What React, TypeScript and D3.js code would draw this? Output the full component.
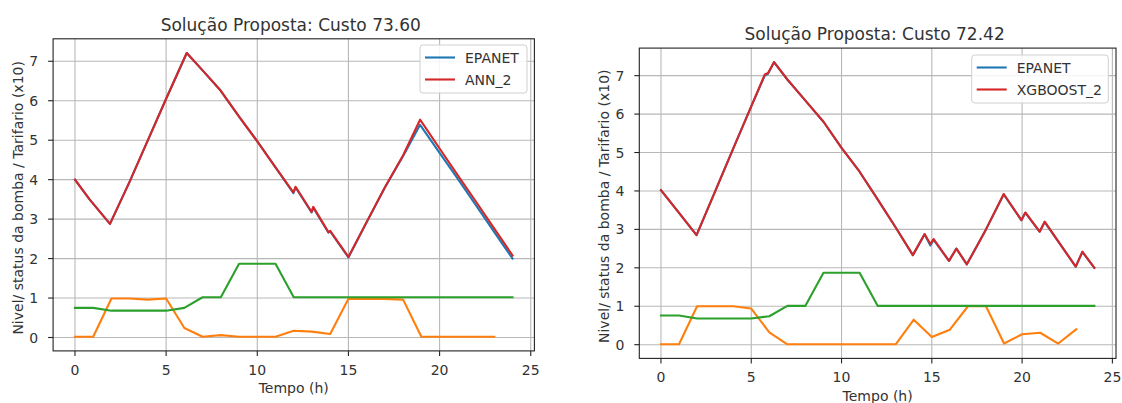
import * as d3 from 'd3'
import React, { useEffect, useRef } from 'react'

// Horas inteiras (tarifa e status da bomba)
const horas = [0, 1, 2, 3, 4, 5, 6, 7, 8, 9, 10, 11, 12, 13, 14, 15, 16, 17, 18, 19, 20, 21, 22, 23, 24]

// Painel esquerdo - ANN_2
const tempoNivelAnn = [0, 0.8, 1.92, 3, 4, 5, 6.13, 7, 7.95, 9, 10, 11, 11.98, 12.1, 12.98, 13.07, 13.9, 14.0, 15, 16, 17, 18, 18.93, 20, 21, 22, 23, 24]
const epanetAnn = [4.0, 3.5, 2.88, 3.95, 5.0, 6.05, 7.21, 6.77, 6.28, 5.6, 4.97, 4.31, 3.66, 3.8, 3.17, 3.29, 2.66, 2.69, 2.03, 2.92, 3.8, 4.6, 5.39, 4.68, 4.02, 3.35, 2.67, 2.0]
const ann2 = [4.0, 3.5, 2.88, 3.95, 5.0, 6.05, 7.21, 6.77, 6.28, 5.6, 4.97, 4.31, 3.68, 3.82, 3.18, 3.31, 2.67, 2.7, 2.04, 2.93, 3.81, 4.62, 5.52, 4.79, 4.11, 3.44, 2.76, 2.08]
const bombaAnn = [0.02, 0.02, 0.99, 0.99, 0.96, 0.99, 0.24, 0.02, 0.06, 0.02, 0.02, 0.02, 0.17, 0.15, 0.09, 0.98, 0.98, 0.98, 0.96, 0.02, 0.02, 0.02, 0.02, 0.02]
const tarifaAnn = [0.75, 0.75, 0.68, 0.68, 0.68, 0.68, 0.75, 1.02, 1.02, 1.87, 1.87, 1.87, 1.02, 1.02, 1.02, 1.02, 1.02, 1.02, 1.02, 1.02, 1.02, 1.02, 1.02, 1.02, 1.02]

// Painel direito - XGBOOST_2
const tempoNivelXgb = [0, 1, 1.97, 3, 4, 5, 5.75, 5.93, 6.26, 7, 8, 9, 10, 11, 12, 13, 13.95, 14.6, 14.92, 15.1, 15.95, 16.36, 16.94, 18, 18.98, 19.96, 20.18, 20.97, 21.25, 22, 22.97, 23.34, 24]
const epanetXgb = [4.02, 3.43, 2.85, 3.99, 5.1, 6.2, 7.0, 7.05, 7.35, 6.9, 6.35, 5.8, 5.12, 4.5, 3.78, 3.05, 2.33, 2.87, 2.58, 2.73, 2.18, 2.5, 2.09, 3.0, 3.91, 3.24, 3.43, 2.94, 3.19, 2.69, 2.03, 2.41, 2.0]
const xgboost2 = [4.02, 3.43, 2.85, 3.99, 5.1, 6.2, 7.03, 7.07, 7.35, 6.9, 6.35, 5.8, 5.12, 4.5, 3.78, 3.05, 2.33, 2.88, 2.62, 2.75, 2.18, 2.5, 2.09, 3.0, 3.92, 3.24, 3.44, 2.94, 3.2, 2.69, 2.03, 2.42, 2.0]
const bombaXgb = [0.01, 0.01, 1.0, 1.0, 1.0, 0.94, 0.32, 0.01, 0.01, 0.01, 0.01, 0.01, 0.01, 0.01, 0.65, 0.2, 0.39, 1.0, 1.0, 0.03, 0.27, 0.31, 0.03, 0.4]
const tarifaXgb = [0.76, 0.76, 0.68, 0.68, 0.68, 0.68, 0.74, 1.01, 1.01, 1.87, 1.87, 1.87, 1.01, 1.01, 1.01, 1.01, 1.01, 1.01, 1.01, 1.01, 1.01, 1.01, 1.01, 1.01, 1.01]

const xTicks = [0, 5, 10, 15, 20, 25]
const yTicks = [0, 1, 2, 3, 4, 5, 6, 7]

const C0 = '#1f77b4'
const C1 = '#ff7f0e'
const C2 = '#2ca02c'
const C3 = '#d62728'
const FONT = '"DejaVu Sans", sans-serif'

const panels = [
    {
        frame: { left: 53.1, right: 534.4, top: 38.8, bottom: 350.9 },
        title: 'Solução Proposta: Custo 73.60',
        tempo: tempoNivelAnn, epanet: epanetAnn, modelo: ann2, modeloNome: 'ANN_2',
        bomba: bombaAnn, tarifa: tarifaAnn,
        legend: { left: 420, top: 45, width: 107, height: 48 },
    },
    {
        frame: { left: 639.3, right: 1116, top: 48.1, bottom: 358.4 },
        title: 'Solução Proposta: Custo 72.42',
        tempo: tempoNivelXgb, epanet: epanetXgb, modelo: xgboost2, modeloNome: 'XGBOOST_2',
        bomba: bombaXgb, tarifa: tarifaXgb,
        legend: { left: 971.7, top: 55, width: 136.6, height: 48 },
    },
]

function drawPanel(svg, p) {
    const f = p.frame
    const g = svg.append('g')

    // 5% de margem como no matplotlib
    const xMin = 0, xMax = 24
    const yMin = d3.min([...p.epanet, ...p.modelo, ...p.bomba, ...p.tarifa])
    const yMax = d3.max([...p.epanet, ...p.modelo, ...p.bomba, ...p.tarifa])
    const xPad = (xMax - xMin) * 0.05
    const yPad = (yMax - yMin) * 0.05

    const x = d3.scaleLinear().domain([xMin - xPad, xMax + xPad]).range([f.left, f.right])
    const y = d3.scaleLinear().domain([yMin - yPad, yMax + yPad]).range([f.bottom, f.top])

    // Grade
    g.selectAll('.gx').data(xTicks).enter().append('line')
        .attr('x1', d => x(d)).attr('x2', d => x(d))
        .attr('y1', f.top).attr('y2', f.bottom)
        .attr('stroke', '#b8b8b8').attr('stroke-width', 1.1)
    g.selectAll('.gy').data(yTicks).enter().append('line')
        .attr('y1', d => y(d)).attr('y2', d => y(d))
        .attr('x1', f.left).attr('x2', f.right)
        .attr('stroke', '#b8b8b8').attr('stroke-width', 1.1)

    const line = d3.line().x(d => x(d[0])).y(d => y(d[1]))
    const serie = (ts, vs) => vs.map((v, i) => [ts[i], v])

    const series = [
        { pts: serie(p.tempo, p.epanet), color: C0 },
        { pts: serie(horas, p.bomba), color: C1 },
        { pts: serie(horas, p.tarifa), color: C2 },
        { pts: serie(p.tempo, p.modelo), color: C3 },
    ]
    series.forEach(s => {
        g.append('path')
            .attr('d', line(s.pts))
            .attr('fill', 'none')
            .attr('stroke', s.color)
            .attr('stroke-width', 2.1)
            .attr('stroke-linejoin', 'round')
            .attr('stroke-linecap', 'square')
    })

    // Moldura
    g.append('rect')
        .attr('x', f.left).attr('y', f.top)
        .attr('width', f.right - f.left).attr('height', f.bottom - f.top)
        .attr('fill', 'none').attr('stroke', '#222').attr('stroke-width', 1.1)

    // Ticks x
    g.selectAll('.tx').data(xTicks).enter().append('line')
        .attr('x1', d => x(d)).attr('x2', d => x(d))
        .attr('y1', f.bottom).attr('y2', f.bottom + 5)
        .attr('stroke', '#222').attr('stroke-width', 1.1)
    g.selectAll('.lx').data(xTicks).enter().append('text')
        .attr('x', d => x(d)).attr('y', f.bottom + 24)
        .attr('text-anchor', 'middle')
        .style('font-family', FONT).style('font-size', '14px').attr('fill', '#333')
        .text(d => d)

    // Ticks y
    g.selectAll('.ty').data(yTicks).enter().append('line')
        .attr('y1', d => y(d)).attr('y2', d => y(d))
        .attr('x1', f.left - 5).attr('x2', f.left)
        .attr('stroke', '#222').attr('stroke-width', 1.1)
    g.selectAll('.ly').data(yTicks).enter().append('text')
        .attr('x', f.left - 15).attr('y', d => y(d))
        .attr('dy', '0.36em')
        .attr('text-anchor', 'end')
        .style('font-family', FONT).style('font-size', '14px').attr('fill', '#333')
        .text(d => d)

    const cx = (f.left + f.right) / 2

    // Titulo
    g.append('text')
        .attr('x', cx - 3).attr('y', f.top - 8)
        .attr('text-anchor', 'middle')
        .style('font-family', FONT).style('font-size', '17px').attr('fill', '#333')
        .text(p.title)

    // Rotulos dos eixos
    g.append('text')
        .attr('x', cx).attr('y', f.bottom + 42.5)
        .attr('text-anchor', 'middle')
        .style('font-family', FONT).style('font-size', '14px').attr('fill', '#333')
        .text('Tempo (h)')
    g.append('text')
        .attr('transform', `translate(${f.left - 30}, ${(f.top + f.bottom) / 2 + 3}) rotate(-90)`)
        .attr('text-anchor', 'middle')
        .style('font-family', FONT).style('font-size', '14px').attr('fill', '#333')
        .text('Nivel/ status da bomba / Tarifario (x10)')

    // Legenda
    const L = p.legend
    const leg = g.append('g').attr('transform', `translate(${L.left}, ${L.top})`)
    leg.append('rect')
        .attr('width', L.width).attr('height', L.height)
        .attr('rx', 3)
        .attr('fill', 'white').attr('fill-opacity', 0.85)
        .attr('stroke', '#d0d0d0').attr('stroke-width', 1)
    const itens = [{ nome: 'EPANET', color: C0 }, { nome: p.modeloNome, color: C3 }]
    itens.forEach((it, i) => {
        const ly = 12.5 + i * 22
        leg.append('line')
            .attr('x1', 5).attr('x2', 35).attr('y1', ly).attr('y2', ly)
            .attr('stroke', it.color).attr('stroke-width', 2.1)
        leg.append('text')
            .attr('x', 45).attr('y', ly).attr('dy', '0.36em')
            .style('font-family', FONT).style('font-size', '14px').attr('fill', '#333')
            .text(it.nome)
    })
}

const App = () => {
    const ref = useRef(null)

    useEffect(() => {
        const root = ref.current
        d3.select(root).select('svg').remove()
        const svg = d3.select(root)
            .append('svg')
            .attr('width', 1122)
            .attr('height', 403)
            .style('position', 'absolute')
            .style('left', '0px')
            .style('top', '0px')
            .style('background', 'white')
        panels.forEach(p => drawPanel(svg, p))
    }, [])

    return <div ref={ref} />
}

export default App
